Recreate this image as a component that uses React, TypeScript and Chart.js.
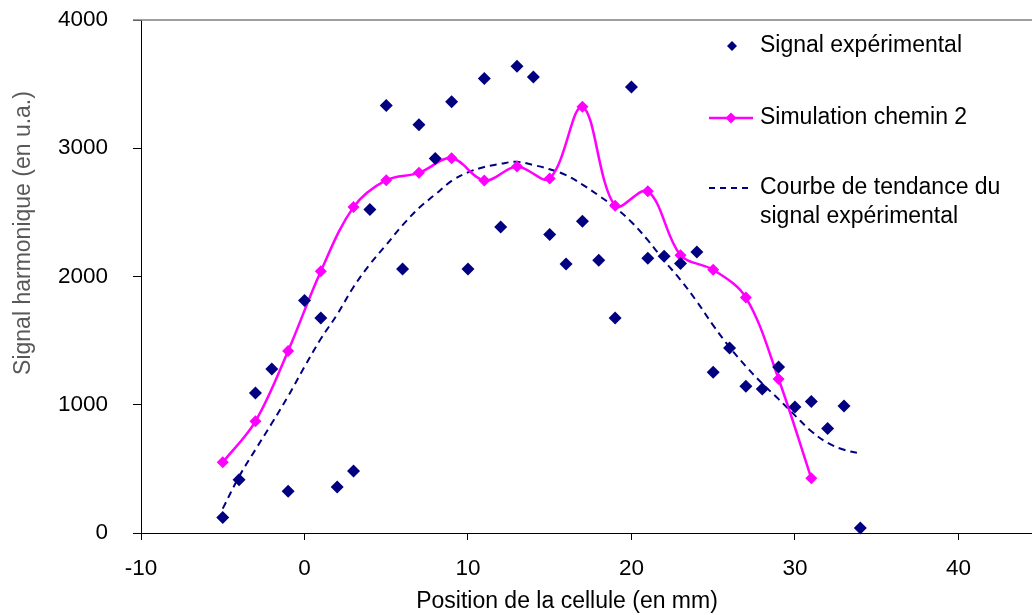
import React, { useEffect, useRef } from "react";
import { Chart, registerables } from "chart.js";

Chart.register(...registerables);

const FONT = "Arial, 'Liberation Sans', Helvetica, sans-serif";
const NAVY = "#000080";
const MAGENTA = "#FF00FF";

// Signal expérimental
const expX = [-5, -4, -3, -2, -1, 0, 1, 2, 3, 4, 5, 6, 7, 8, 9, 10, 11, 12, 13, 14, 15, 16, 17, 18, 19, 20, 21, 22, 23, 24, 25, 26, 27, 28, 29, 30, 31, 32, 33, 34];
const expY = [120, 416, 1092, 1279, 325, 1813, 1677, 359, 484, 2523, 3334, 2059, 3183, 2920, 3362, 2059, 3544, 2385, 3640, 3555, 2328, 2098, 2431, 2127, 1677, 3477, 2143, 2158, 2101, 2192, 1253, 1443, 1144, 1123, 1295, 983, 1025, 814, 991, 39];

// Simulation chemin 2
const simX = [-5, -3, -1, 1, 3, 5, 7, 9, 11, 13, 15, 17, 19, 21, 23, 25, 27, 29, 31];
const simY = [551, 871, 1420, 2041, 2541, 2751, 2808, 2923, 2749, 2858, 2764, 3323, 2551, 2665, 2166, 2052, 1836, 1201, 427];

// Courbe de tendance du signal expérimental
const trendX = [-5, -4, -3, -2, -1, 0, 1, 2, 3, 4, 5, 6, 7, 8, 9, 10, 11, 12, 13, 14, 15, 16, 17, 18, 19, 20, 21, 22, 23, 24, 25, 26, 27, 28, 29, 30, 31, 32, 33, 34];
const trendY = [190, 440, 650, 855, 1067, 1296, 1514, 1704, 1918, 2095, 2247, 2400, 2534, 2640, 2745, 2812, 2854, 2879, 2894, 2869, 2836, 2790, 2717, 2631, 2538, 2425, 2283, 2123, 1974, 1805, 1619, 1450, 1300, 1165, 1044, 917, 794, 703, 649, 620];

const xTicks = [-10, 0, 10, 20, 30, 40];
const yTicks = [0, 1000, 2000, 3000, 4000];

const legendLabels = ["Signal expérimental", "Simulation chemin 2", ["Courbe de tendance du", "signal expérimental"]];
const xTitle = "Position de la cellule (en mm)";
const yTitle = "Signal harmonique (en u.a.)";

const toPts = (xs: number[], ys: number[]) => xs.map((x, i) => ({ x, y: ys[i] }));

function diamond(ctx: CanvasRenderingContext2D, x: number, y: number, r: number, color: string) {
  ctx.beginPath();
  ctx.moveTo(x, y - r);
  ctx.lineTo(x + r, y);
  ctx.lineTo(x, y + r);
  ctx.lineTo(x - r, y);
  ctx.closePath();
  ctx.fillStyle = color;
  ctx.fill();
}

export default function App() {
  const ref = useRef<HTMLCanvasElement>(null);

  useEffect(() => {
    document.body.style.margin = "0";
    const canvas = ref.current;
    if (!canvas) return;

    const overlay = {
      id: "overlay",
      afterDraw(chart: any) {
        const ctx: CanvasRenderingContext2D = chart.ctx;
        const area = chart.chartArea;
        ctx.save();
        // top border
        ctx.strokeStyle = "#808080";
        ctx.lineWidth = 1.5;
        ctx.beginPath();
        ctx.moveTo(133, area.top);
        ctx.lineTo(chart.width, area.top);
        ctx.stroke();

        // axis titles
        ctx.font = `23px ${FONT}`;
        ctx.textBaseline = "middle";
        ctx.textAlign = "center";
        ctx.fillStyle = "#000000";
        ctx.fillText(xTitle, 567, 602);
        ctx.save();
        ctx.translate(24, 233);
        ctx.rotate(-Math.PI / 2);
        ctx.fillStyle = "#595959";
        ctx.fillText(yTitle, 0, 0);
        ctx.restore();

        // legend
        ctx.textAlign = "left";
        diamond(ctx, 732, 46, 5, NAVY);
        ctx.fillStyle = "#000000";
        ctx.fillText(legendLabels[0] as string, 760, 46);

        ctx.strokeStyle = MAGENTA;
        ctx.lineWidth = 2.5;
        ctx.beginPath();
        ctx.moveTo(709, 118);
        ctx.lineTo(753, 118);
        ctx.stroke();
        diamond(ctx, 731, 118, 5.5, MAGENTA);
        ctx.fillStyle = "#000000";
        ctx.fillText(legendLabels[1] as string, 760, 118);

        ctx.strokeStyle = NAVY;
        ctx.lineWidth = 2;
        ctx.setLineDash([6, 5]);
        ctx.beginPath();
        ctx.moveTo(709, 188);
        ctx.lineTo(753, 188);
        ctx.stroke();
        ctx.setLineDash([]);
        const l3 = legendLabels[2] as string[];
        ctx.fillStyle = "#000000";
        ctx.fillText(l3[0], 760, 188);
        ctx.fillText(l3[1], 760, 217);
        ctx.restore();
      },
    };

    const chart = new Chart(canvas, {
      type: "scatter",
      data: {
        datasets: [
          {
            label: legendLabels[0] as string,
            data: toPts(expX, expY),
            showLine: false,
            pointStyle: "rectRot",
            pointRadius: 6.5,
            backgroundColor: NAVY,
            borderColor: NAVY,
            borderWidth: 0,
            clip: false,
          },
          {
            label: legendLabels[1] as string,
            data: toPts(simX, simY),
            showLine: true,
            tension: 0.35,
            borderColor: MAGENTA,
            borderWidth: 2.5,
            pointStyle: "rectRot",
            pointRadius: 6,
            backgroundColor: MAGENTA,
            pointBorderWidth: 0,
            clip: false,
          },
          {
            label: "Courbe de tendance",
            data: toPts(trendX, trendY),
            showLine: true,
            tension: 0.4,
            borderColor: NAVY,
            borderWidth: 2,
            borderDash: [7, 5],
            pointRadius: 0,
            clip: false,
          },
        ],
      },
      options: {
        animation: false,
        responsive: false,
        layout: { autoPadding: false, padding: { top: 20, right: 0, left: 0, bottom: 0 } },
        plugins: {
          legend: { display: false },
          tooltip: { enabled: false },
        },
        scales: {
          x: {
            type: "linear",
            position: "bottom",
            min: -10,
            max: 44.5,
            afterBuildTicks: (scale: any) => {
              scale.ticks = xTicks.map((v) => ({ value: v }));
            },
            afterFit: (scale: any) => {
              scale.height = 82;
              scale.paddingLeft = 0;
              scale.paddingRight = 0;
            },
            ticks: {
              color: "#000000",
              font: { family: FONT, size: 22.5 },
              padding: 15,
              maxRotation: 0,
              callback: (v: any) => String(v),
            },
            grid: {
              drawOnChartArea: false,
              drawTicks: true,
              tickLength: 7,
              color: "#000000",
            },
            border: { display: true, color: "#000000", width: 1 },
          },
          y: {
            type: "linear",
            min: 0,
            max: 4000,
            afterBuildTicks: (scale: any) => {
              scale.ticks = yTicks.map((v) => ({ value: v }));
            },
            afterFit: (scale: any) => {
              scale.width = 141;
              scale.paddingTop = 0;
              scale.paddingBottom = 0;
            },
            ticks: {
              color: "#000000",
              font: { family: FONT, size: 22.5 },
              padding: 25,
              callback: (v: any) => String(v),
            },
            grid: {
              drawOnChartArea: false,
              drawTicks: true,
              tickLength: 8,
              color: "#000000",
            },
            border: { display: true, color: "#000000", width: 1 },
          },
        },
      },
      plugins: [overlay],
    } as any);

    return () => chart.destroy();
  }, []);

  return (
    <div style={{ width: 1032, height: 615 }}>
      <canvas ref={ref} width={1032} height={615} style={{ display: "block", width: 1032, height: 615 }} />
    </div>
  );
}
